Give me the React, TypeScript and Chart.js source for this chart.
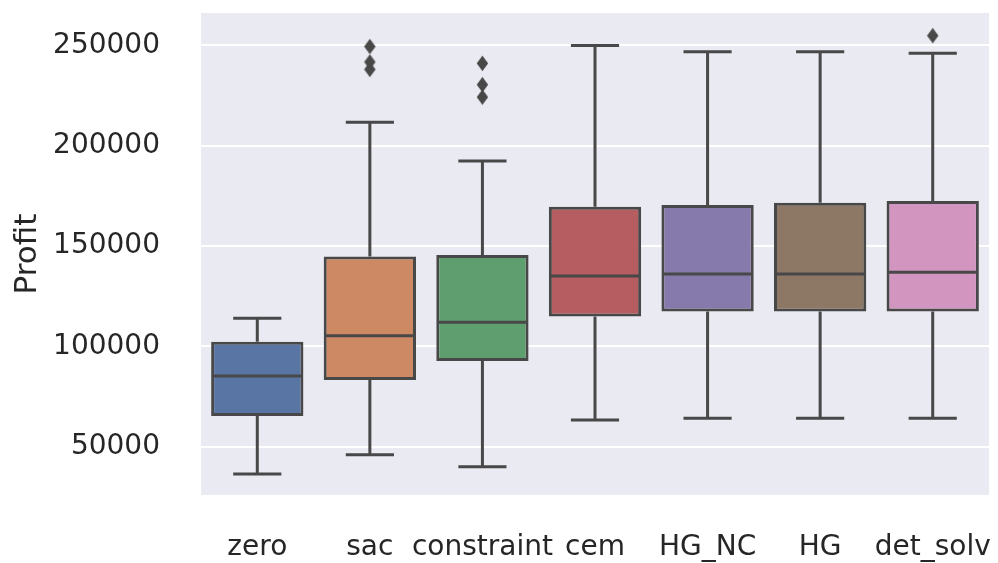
import React, { useEffect, useRef } from "react";
import { Chart, registerables } from "chart.js";

Chart.register(...registerables);

// Box-plot summary per strategy
const categories = ["zero", "sac", "constraint", "cem", "HG_NC", "HG", "det_solv"];
const lowerWhisker = [36400, 45900, 40000, 63300, 64100, 64100, 64100];
const q1 = [65300, 83200, 92700, 114800, 117300, 117300, 117300];
const median = [85200, 105200, 112000, 135000, 136000, 136000, 136900];
const q3 = [102300, 144700, 145500, 169600, 170400, 171600, 172400];
const upperWhisker = [114000, 211600, 192400, 249900, 246800, 246800, 246000];

// Outliers: [category, value]
const outlierCategory = ["sac", "sac", "sac", "constraint", "constraint", "constraint", "det_solv"];
const outlierValue = [249400, 241700, 238000, 241000, 230400, 224200, 254800];

const yTicks = [50000, 100000, 150000, 200000, 250000];
const boxColors = ["#5975a4", "#cc8963", "#5f9e6e", "#b55d60", "#857aab", "#8d7866", "#d195c0"];
const LINE = "#484848";
const FONT = "'DejaVu Sans', sans-serif";

function makeDiamond(): HTMLCanvasElement {
  const c = document.createElement("canvas");
  c.width = 13;
  c.height = 17;
  const g = c.getContext("2d")!;
  g.fillStyle = LINE;
  g.beginPath();
  g.moveTo(6.5, 0.8);
  g.lineTo(12.2, 8.5);
  g.lineTo(6.5, 16.2);
  g.lineTo(0.8, 8.5);
  g.closePath();
  g.fill();
  return c;
}

const plotBackground = {
  id: "plotBackground",
  beforeDraw(chart: any) {
    const { ctx, chartArea } = chart;
    ctx.save();
    ctx.fillStyle = "#eaeaf2";
    ctx.fillRect(chartArea.left, chartArea.top, chartArea.right - chartArea.left, chartArea.bottom - chartArea.top);
    ctx.restore();
  },
};

const whiskers = {
  id: "whiskers",
  afterDatasetsDraw(chart: any) {
    const { ctx } = chart;
    const y = chart.scales.y;
    const meta = chart.getDatasetMeta(0);
    ctx.save();
    ctx.strokeStyle = LINE;
    ctx.lineWidth = 3;
    ctx.lineCap = "butt";
    categories.forEach((_, i) => {
      const bar = meta.data[i];
      const cx = bar.x;
      const half = bar.width / 2;
      const capHalf = bar.width / 4 + 1;
      const yQ1 = y.getPixelForValue(q1[i]);
      const yQ3 = y.getPixelForValue(q3[i]);
      const yLo = y.getPixelForValue(lowerWhisker[i]);
      const yHi = y.getPixelForValue(upperWhisker[i]);
      const yMed = y.getPixelForValue(median[i]);
      ctx.beginPath();
      ctx.moveTo(cx, yQ3);
      ctx.lineTo(cx, yHi);
      ctx.moveTo(cx, yQ1);
      ctx.lineTo(cx, yLo);
      ctx.moveTo(cx - capHalf, yHi);
      ctx.lineTo(cx + capHalf, yHi);
      ctx.moveTo(cx - capHalf, yLo);
      ctx.lineTo(cx + capHalf, yLo);
      ctx.moveTo(cx - half + 1.5, yMed);
      ctx.lineTo(cx + half - 1.5, yMed);
      ctx.stroke();
    });
    ctx.restore();
  },
};

function clearScalePadding(scale: any) {
  scale.paddingTop = 0;
  scale.paddingBottom = 0;
  scale.paddingLeft = 0;
  scale.paddingRight = 0;
}

export default function App() {
  const ref = useRef<HTMLCanvasElement>(null);

  useEffect(() => {
    if (!ref.current) return;
    const diamond = makeDiamond();
    const chart = new Chart(ref.current, {
      type: "bar",
      data: {
        labels: categories,
        datasets: [
          {
            type: "bar",
            data: categories.map((_, i) => [q1[i], q3[i]]) as any,
            backgroundColor: boxColors,
            borderColor: LINE,
            borderWidth: 3,
            borderSkipped: false,
            barPercentage: 0.82,
            categoryPercentage: 1,
          } as any,
          {
            type: "scatter",
            data: outlierValue.map((v, k) => ({ x: outlierCategory[k], y: v })),
            pointStyle: diamond as any,
            showLine: false,
          } as any,
        ],
      },
      options: {
        responsive: false,
        animation: false,
        layout: { padding: { left: 0, top: 13, right: 9, bottom: 0 } },
        plugins: {
          legend: { display: false },
          tooltip: { enabled: false },
        },
        scales: {
          x: {
            type: "category",
            offset: true,
            grid: { display: false, drawTicks: false },
            border: { display: false },
            ticks: {
              padding: 36,
              color: "#262626",
              font: { family: FONT, size: 28 },
              maxRotation: 0,
              autoSkip: false,
            },
            afterFit(scale: any) {
              scale.height = 68;
              clearScalePadding(scale);
            },
          },
          y: {
            type: "linear",
            min: 25900,
            max: 266100,
            grid: { color: "#ffffff", lineWidth: 2, drawTicks: false },
            border: { display: false },
            ticks: {
              padding: 41,
              color: "#262626",
              font: { family: FONT, size: 28 },
              callback: (v: any) => String(v),
            },
            afterBuildTicks(scale: any) {
              scale.ticks = yTicks.map((v) => ({ value: v }));
            },
            afterFit(scale: any) {
              scale.width = 201;
              clearScalePadding(scale);
            },
            title: {
              display: true,
              text: "Profit",
              color: "#262626",
              font: { family: FONT, size: 31 },
              padding: { top: 9, bottom: 0 },
            },
          },
        },
      },
      plugins: [plotBackground, whiskers],
    });
    return () => chart.destroy();
  }, []);

  return (
    <canvas
      ref={ref}
      width={998}
      height={563}
      style={{ position: "absolute", left: 0, top: 0, display: "block", background: "#ffffff" }}
    />
  );
}
